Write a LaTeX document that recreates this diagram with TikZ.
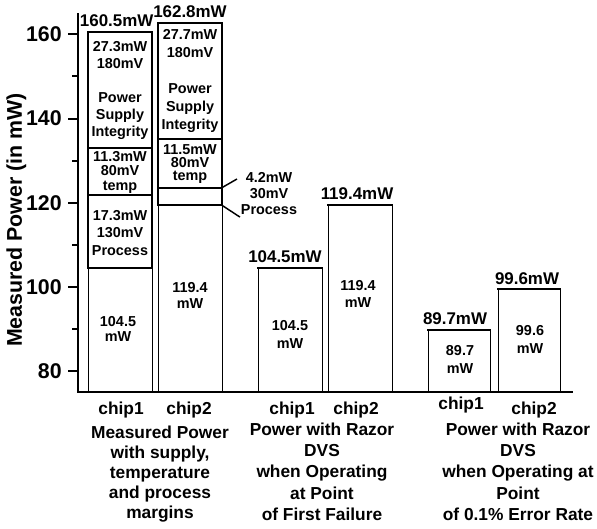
\documentclass[tikz,border=0pt]{standalone}
\usepackage{fontspec}
\setmainfont{Liberation Sans}
\usepackage{tikz}
\usetikzlibrary{positioning}
\tikzset{axisline/.style = {line width = 1.5pt}}
\tikzset{segbox/.style = {line width = 1.5pt}}
\tikzset{barside/.style = {line width = 0.75pt}}
\tikzset{bartop/.style = {line width = 1.5pt, line cap = rect}}
\tikzset{leader/.style = {line width = 1.1pt}}
\tikzset{ticklbl/.style = {left, inner sep = 4pt, font = \bfseries\fontsize{16}{19}\selectfont}}
\tikzset{toplbl/.style = {anchor = base, inner sep = 0, font = \bfseries\fontsize{12.7}{15}\selectfont}}
\tikzset{inlbl/.style = {align = center, inner sep = 0, font = \bfseries\fontsize{10.8}{#1}\selectfont},
         inlbl/.default = 13.5}
\tikzset{chiplbl/.style = {anchor = base, inner sep = 0, font = \bfseries\fontsize{13}{15}\selectfont}}
\tikzset{caplbl/.style = {align = center, inner sep = 0, font = \bfseries\fontsize{13}{#1}\selectfont},
         caplbl/.default = 16}

\begin{document}
\begin{tikzpicture}[x = 0.75pt, y = 3.1575pt]
      \useasboundingbox (0, 42.52) rectangle (597, 168.17);
      % axes and ticks
      \draw [axisline] (78, 165) -- (78, 75) -- (573, 75);
      \draw [axisline] (78, 160) -- (68, 160) node (t160) [ticklbl] {160};
      \draw [axisline] (78, 140) -- (68, 140) node (t140) [ticklbl] {140};
      \draw [axisline] (78, 120) -- (68, 120) node (t120) [ticklbl] {120};
      \draw [axisline] (78, 100) -- (68, 100) node (t100) [ticklbl] {100};
      \draw [axisline] (78, 80) -- (68, 80) node (t80) [ticklbl] {80};
      \draw [axisline] (78, 150) -- (72, 150);
      \draw [axisline] (78, 130) -- (72, 130);
      \draw [axisline] (78, 110) -- (72, 110);
      \draw [axisline] (78, 90) -- (72, 90);
      \node (ytitle) [rotate = 90, anchor = base, inner sep = 0,
                      font = \bfseries\fontsize{16}{19}\selectfont] at (22, 115.9) {Measured Power (in mW)};

      % measured power with margins
      \draw [barside] (88, 75) -- (88, 104.5) (152, 75) -- (152, 104.5);
      \draw [segbox] (88, 104.5) rectangle (152, 121.8);
      \draw [segbox] (88, 121.8) rectangle (152, 133.1);
      \draw [segbox] (88, 133.1) rectangle (152, 160.5);
      \draw [barside] (158, 75) -- (158, 119.4) (222, 75) -- (222, 119.4);
      \draw [segbox] (158, 119.4) rectangle (222, 123.6);
      \draw [segbox] (158, 123.6) rectangle (222, 135.1);
      \draw [segbox] (158, 135.1) rectangle (222, 162.8);
      \node (sumA) [toplbl] at (116.7, 161.8) {160.5mW};
      \node (sumB) [toplbl] at (190, 164.1) {162.8mW};
      \node (supA) [inlbl = 12.75] at (120, 146.75) {27.3mW\\180mV\\~\\Power\\Supply\\Integrity};
      \node (tmpA) [inlbl = 10.9] at (120, 127.3) {11.3mW\\80mV\\temp};
      \node (proA) [inlbl = 13.1] at (120, 112.9) {17.3mW\\130mV\\Process};
      \node (baseA) [inlbl = 11.25] at (118, 90) {104.5\\mW};
      \node (supB) [inlbl = 13.5] at (190, 148.95) {27.7mW\\180mV\\~\\Power\\Supply\\Integrity};
      \node (tmpB) [inlbl = 10] at (190, 129.2) {11.5mW\\80mV\\temp};
      \node (baseB) [inlbl = 12] at (190, 98.1) {119.4\\mW};
      \node (proB) [inlbl = 12] at (269, 122.3) {4.2mW\\30mV\\Process};
      \coordinate (proBtop) at (222, 123.6);
      \coordinate (proBbot) at (222, 119.4);
      \coordinate (proBup) at (237, 125.65);
      \coordinate (proBdn) at (240, 116.6);
      \draw [leader] (proBtop) -- (proBup);
      \draw [leader] (proBbot) -- (proBdn);

      % razor at point of first failure
      \draw [barside] (258, 75) -- (258, 104.5) (322, 75) -- (322, 104.5);
      \draw [bartop] (258, 104.5) -- (322, 104.5);
      \draw [barside] (328, 75) -- (328, 119.4) (392, 75) -- (392, 119.4);
      \draw [bartop] (328, 119.4) -- (392, 119.4);
      \node (sumC) [toplbl] at (285, 105.9) {104.5mW};
      \node (sumD) [toplbl] at (357, 120.7) {119.4mW};
      \node (baseC) [inlbl = 13.5] at (290, 88.8) {104.5\\mW};
      \node (baseD) [inlbl = 12.75] at (358, 98.46) {119.4\\mW};

      % razor at 0.1% error rate
      \draw [barside] (428, 75) -- (428, 89.7) (490, 75) -- (490, 89.7);
      \draw [bartop] (428, 89.7) -- (490, 89.7);
      \draw [barside] (498, 75) -- (498, 99.6) (560, 75) -- (560, 99.6);
      \draw [bartop] (498, 99.6) -- (560, 99.6);
      \node (sumE) [toplbl] at (455, 91) {89.7mW};
      \node (sumF) [toplbl] at (527, 100.7) {99.6mW};
      \node (baseE) [inlbl = 13.5] at (460, 82.9) {89.7\\mW};
      \node (baseF) [inlbl = 13.5] at (530, 87.65) {99.6\\mW};

      % chip names and group captions
      \node (chipA) [chiplbl] at (121, 69.6) {chip1};
      \node (chipB) [chiplbl] at (189, 69.6) {chip2};
      \node (chipC) [chiplbl] at (292, 69.6) {chip1};
      \node (chipD) [chiplbl] at (356, 69.6) {chip2};
      \node (chipE) [chiplbl] at (461, 70.8) {chip1};
      \node (chipF) [chiplbl] at (534, 69.6) {chip2};
      \node (capA) [caplbl = 15] at (160, 55.58) {Measured Power\\with supply,\\temperature\\and process\\margins};
      \node (capB) [caplbl = 16] at (322, 56.18) {Power with Razor\\DVS\\when Operating\\at Point\\of First Failure};
      \node (capC) [caplbl = 16] at (518, 56.18) {Power with Razor\\DVS\\when Operating at\\Point\\of 0.1\% Error Rate};
    \end{tikzpicture}
\end{document}
